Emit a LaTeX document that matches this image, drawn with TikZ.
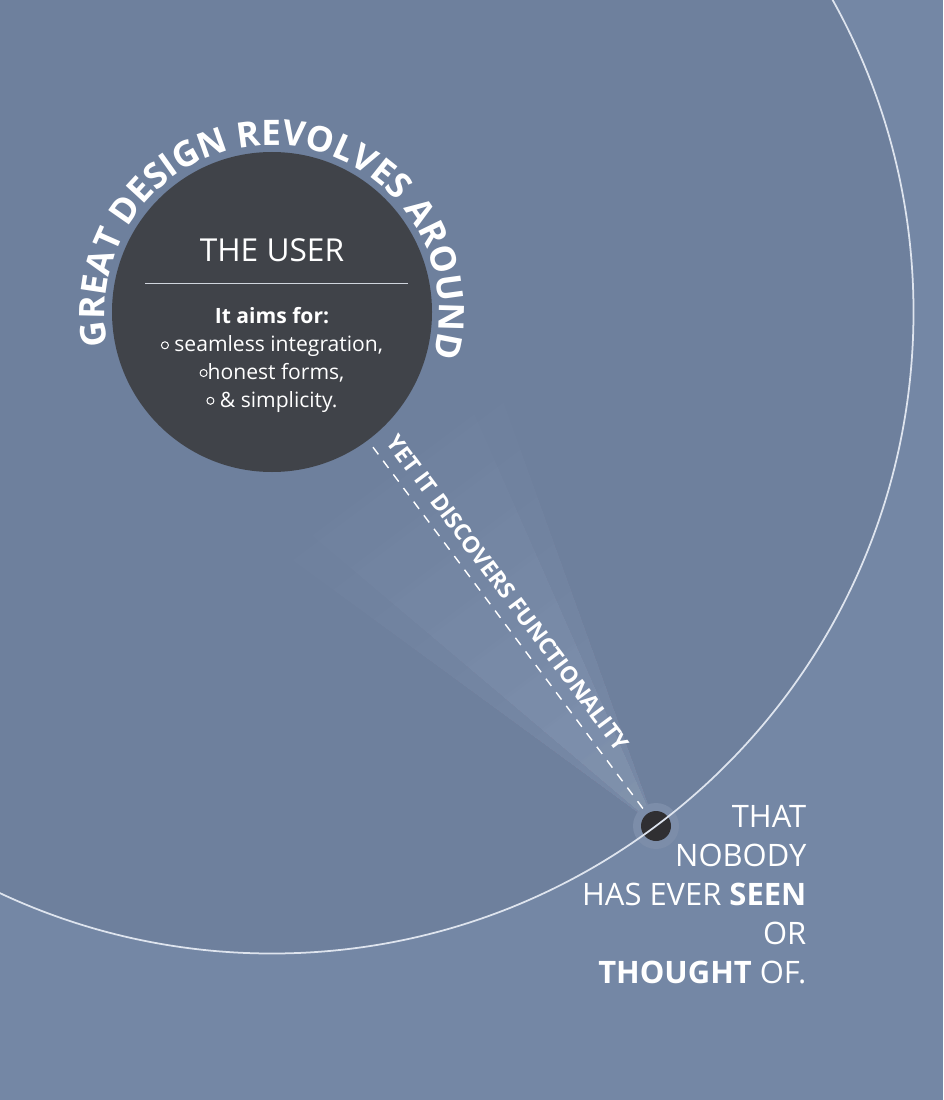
\documentclass[tikz,border=0pt]{standalone}
\usepackage{fontspec}
\setmainfont{Open Sans}
\usetikzlibrary{decorations.text}
\definecolor{bgout}{RGB}{116,135,165}
\definecolor{bgin}{RGB}{110,128,157}
\definecolor{usergray}{RGB}{64,67,73}
\definecolor{dotgray}{RGB}{48,47,50}
\definecolor{halo}{RGB}{124,141,169}
\definecolor{ringline}{RGB}{222,228,238}
\newcommand\ring{\tikz[baseline=-0.55ex]\draw[white, line width=0.28pt] (0,0) circle (1pt);}
\begin{document}
\begin{tikzpicture}[
    userdisc/.style={circle, fill=usergray, minimum size=3.2cm, inner sep=0pt},
    dotdisc/.style={circle, fill=dotgray, minimum size=0.3cm, inner sep=0pt},
    dashline/.style={white, line width=0.4pt, dash pattern=on 0.09cm off 0.08cm},
    whitetext/.style={text=white, inner sep=0pt}]
    % Nền và khung
    \fill[bgout] (0,0) rectangle (9.43,-11);
    \useasboundingbox (0,0) rectangle (9.43,-11);
    \coordinate (U) at (2.72,-3.12);
    \coordinate (D) at (6.56,-8.26);
    
    % Vòng tròn lớn
    \begin{scope}
        \clip (0,0) rectangle (9.43,-11);
        \fill[bgin] (U) circle (6.415);
    \end{scope}
    
    % Chùm sáng
    \foreach \l in {0.5,1.0,...,4.9}
        \foreach \a in {13,17}
            \fill[white, fill opacity=0.01] (D) -- +(126.8-\a:\l) -- +(126.8+\a:\l) -- cycle;
    \fill[halo] (D) circle (0.23);
    
    % Các nút
    \node[userdisc] (user) at (U) {};
    \node[dotdisc] (dot) at (D) {};
    \begin{scope}
        \clip (0,0) rectangle (9.43,-11);
        \draw[ringline, line width=0.5pt] (U) circle (6.415);
    \end{scope}
    \draw[dashline, shorten <=0.08cm, shorten >=0.03cm] (user) -- (dot);
    
    % Chữ
    \path[decorate, decoration={text along path, text align=center, text color=white,
        text={|\fontsize{10}{12}\selectfont\bfseries|GREAT DESIGN REVOLVES AROUND}}]
        ([shift={(192:1.67)}]U) arc[start angle=192, end angle=-16, radius=1.67];
    \node[whitetext, anchor=base, font=\fontsize{9}{11}\selectfont] (title) at (2.72,-2.62) {THE USER};
    \draw[ringline!85!gray, line width=0.5pt] (1.45,-2.835) -- (4.08,-2.835);
    \node[whitetext, anchor=base, align=center, font=\fontsize{6}{7.9}\selectfont] (aims) at (2.72,-4.07)
        {\textbf{It aims for:}\\ \ring\ seamless integration,\\ \ring honest forms,\\ \ring\ \& simplicity.};
    \node[whitetext, rotate=-53.2, font=\bfseries\fontsize{6.5}{7.5}\selectfont] (yet) at (5.08,-5.93)
        {YET IT DISCOVERS FUNCTIONALITY};
    \node[whitetext, anchor=north east, align=right, font=\fontsize{8.8}{11.1}\selectfont] (nobody) at (8.07,-8.05)
        {THAT\\NOBODY\\HAS EVER \textbf{SEEN}\\OR\\\textbf{THOUGHT} OF.};
\end{tikzpicture}
\end{document}
